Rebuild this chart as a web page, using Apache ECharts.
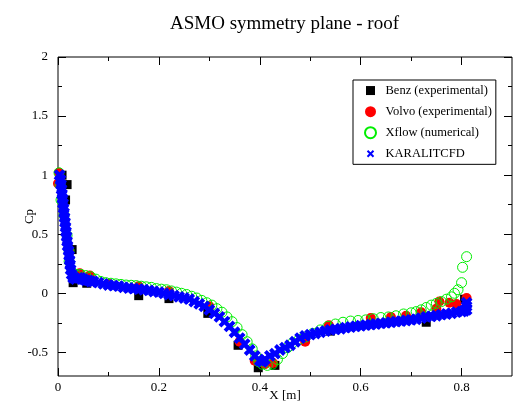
<!DOCTYPE html>
<html>
<head>
    <title>ASMO symmetry plane - roof</title>
    <script src="https://cdn.jsdelivr.net/npm/echarts@6.0.0/dist/echarts.min.js"></script>
</head>
<body style="margin:0">
<div id="chart" style="width: 520px; height: 403px;"></div>
<script>
    // values (X [m], Cp)
    var seriesNames = ['Benz (experimental)', 'Volvo (experimental)', 'Xflow (numerical)', 'KARALITCFD'];

    var benz = [
        [0.008, 1.0], [0.018, 0.92], [0.015, 0.79], [0.028, 0.37], [0.03, 0.09], [0.057, 0.085],
        [0.16, -0.02], [0.22, -0.045], [0.297, -0.17], [0.357, -0.44], [0.397, -0.63], [0.43, -0.61],
        [0.54, -0.32], [0.73, -0.245], [0.806, -0.05]
    ];

    var volvo = [
        [0.002, 1.02], [0.0, 0.93], [0.012, 0.66], [0.022, 0.35], [0.043, 0.17], [0.063, 0.15],
        [0.10, 0.08], [0.16, 0.06], [0.22, 0.02], [0.30, -0.11], [0.36, -0.41], [0.39, -0.57],
        [0.41, -0.6], [0.426, -0.59], [0.49, -0.41], [0.537, -0.27], [0.62, -0.21], [0.66, -0.2],
        [0.69, -0.19], [0.72, -0.16], [0.75, -0.13], [0.756, -0.07], [0.776, -0.08], [0.79, -0.09],
        [0.81, -0.04]
    ];

    var xflow = [
        [0.002, 1.02], [0.004, 0.92], [0.006, 0.79], [0.012, 0.66], [0.018, 0.49], [0.022, 0.36],
        [0.022, 0.27], [0.028, 0.18], [0.035, 0.16], [0.045, 0.16], [0.055, 0.15], [0.065, 0.14],
        [0.075, 0.12], [0.085, 0.1], [0.095, 0.09], [0.105, 0.085], [0.115, 0.08], [0.125, 0.075],
        [0.135, 0.07], [0.145, 0.068], [0.155, 0.065], [0.165, 0.06], [0.175, 0.055], [0.185, 0.05],
        [0.195, 0.04], [0.205, 0.035], [0.215, 0.03], [0.225, 0.02], [0.235, 0.01], [0.245, 0.0],
        [0.255, -0.01], [0.265, -0.025], [0.275, -0.04], [0.285, -0.06], [0.295, -0.08], [0.305, -0.1],
        [0.315, -0.13], [0.325, -0.16], [0.335, -0.2], [0.345, -0.24], [0.355, -0.29], [0.365, -0.35],
        [0.375, -0.41], [0.385, -0.47], [0.392, -0.53], [0.398, -0.58], [0.405, -0.6], [0.415, -0.61],
        [0.425, -0.6], [0.435, -0.56], [0.445, -0.51], [0.455, -0.46], [0.465, -0.42], [0.478, -0.39],
        [0.49, -0.37], [0.505, -0.34], [0.52, -0.31], [0.535, -0.28], [0.55, -0.26], [0.565, -0.245],
        [0.58, -0.235], [0.595, -0.23], [0.61, -0.225], [0.625, -0.215], [0.64, -0.205], [0.655, -0.2],
        [0.67, -0.19], [0.685, -0.175], [0.70, -0.165], [0.71, -0.155], [0.72, -0.14], [0.73, -0.12],
        [0.74, -0.1], [0.75, -0.085], [0.76, -0.07], [0.77, -0.05], [0.78, -0.03], [0.786, 0.0],
        [0.793, 0.03], [0.80, 0.09], [0.802, 0.22], [0.81, 0.31]
    ];

    var karalit = [
        [0.003, 1.0], [0.005, 0.96], [0.006, 0.92], [0.007, 0.88], [0.008, 0.84], [0.009, 0.80],
        [0.010, 0.76], [0.011, 0.72], [0.012, 0.68], [0.013, 0.64], [0.014, 0.60], [0.015, 0.56],
        [0.016, 0.52], [0.017, 0.48], [0.018, 0.44], [0.019, 0.40], [0.021, 0.36], [0.022, 0.32],
        [0.023, 0.28], [0.024, 0.24], [0.025, 0.20], [0.027, 0.16], [0.03, 0.13], [0.035, 0.12],
        [0.04, 0.13], [0.045, 0.13], [0.05, 0.12], [0.055, 0.11], [0.06, 0.11], [0.065, 0.10],
        [0.07, 0.10], [0.08, 0.09], [0.09, 0.08], [0.10, 0.07], [0.11, 0.065], [0.12, 0.06],
        [0.13, 0.05], [0.14, 0.045], [0.15, 0.04], [0.16, 0.035], [0.17, 0.03], [0.18, 0.025],
        [0.19, 0.015], [0.20, 0.01], [0.21, 0.0], [0.22, -0.01], [0.23, -0.02], [0.24, -0.03],
        [0.25, -0.04], [0.26, -0.05], [0.27, -0.07], [0.28, -0.09], [0.29, -0.11], [0.30, -0.14],
        [0.31, -0.17], [0.32, -0.20], [0.33, -0.24], [0.34, -0.28], [0.35, -0.33], [0.36, -0.38],
        [0.37, -0.43], [0.38, -0.48], [0.39, -0.53], [0.40, -0.57], [0.405, -0.58], [0.41, -0.56],
        [0.42, -0.53], [0.43, -0.51], [0.44, -0.48], [0.45, -0.46], [0.46, -0.44], [0.47, -0.41],
        [0.48, -0.38], [0.49, -0.36], [0.50, -0.35], [0.51, -0.34], [0.52, -0.33], [0.53, -0.32],
        [0.54, -0.31], [0.55, -0.305], [0.56, -0.30], [0.57, -0.29], [0.58, -0.285], [0.59, -0.28],
        [0.60, -0.275], [0.61, -0.27], [0.62, -0.265], [0.63, -0.26], [0.64, -0.255], [0.65, -0.25],
        [0.66, -0.245], [0.67, -0.24], [0.68, -0.235], [0.69, -0.23], [0.70, -0.225], [0.71, -0.22],
        [0.72, -0.21], [0.73, -0.20], [0.74, -0.195], [0.75, -0.19], [0.76, -0.18], [0.77, -0.175],
        [0.78, -0.17], [0.79, -0.16], [0.80, -0.155], [0.805, -0.15], [0.81, -0.14], [0.81, -0.11],
        [0.81, -0.08]
    ];

    var xTicks = [0, 0.2, 0.4, 0.6, 0.8];
    var xMinorTicks = [0.1, 0.3, 0.5, 0.7];
    var yTicks = [-0.5, 0, 0.5, 1, 1.5, 2];
    var yMinorTicks = [-0.25, 0.25, 0.75, 1.25, 1.75];

    var font = 'Liberation Serif';
    var crossPath = 'path://M0,0L10,10M10,0L0,10';

    function xAx(pos, ticks, len, labels) {
        return {
            type: 'value', position: pos, min: 0, max: 0.9,
            axisLine: { show: false, onZero: false }, splitLine: { show: false },
            axisTick: { show: true, inside: true, length: len, customValues: ticks, lineStyle: { color: '#000' } },
            axisLabel: { show: labels, customValues: ticks, margin: 2, color: '#000', fontFamily: font, fontSize: 13 }
        };
    }
    function yAx(pos, ticks, len, labels) {
        return {
            type: 'value', position: pos, min: -0.7, max: 2,
            axisLine: { show: false, onZero: false }, splitLine: { show: false },
            axisTick: { show: true, inside: true, length: len, customValues: ticks, lineStyle: { color: '#000' } },
            axisLabel: { show: labels, customValues: ticks, margin: 10, color: '#000', fontFamily: font, fontSize: 13 }
        };
    }

    var xAxes = [xAx('bottom', xTicks, 8, true), xAx('bottom', xMinorTicks, 4, false),
                 xAx('top', xTicks, 8, false), xAx('top', xMinorTicks, 4, false)];
    xAxes[0].name = 'X [m]';
    xAxes[0].nameLocation = 'middle';
    xAxes[0].nameGap = 10;
    xAxes[0].nameMoveOverlap = false;
    xAxes[0].nameTextStyle = { color: '#000', fontFamily: font, fontSize: 13 };

    var yAxes = [yAx('left', yTicks, 8, true), yAx('left', yMinorTicks, 4, false),
                 yAx('right', yTicks, 8, false), yAx('right', yMinorTicks, 4, false)];
    yAxes[0].name = 'Cp';
    yAxes[0].nameLocation = 'middle';
    yAxes[0].nameGap = 18;
    yAxes[0].nameMoveOverlap = false;
    yAxes[0].nameTextStyle = { color: '#000', fontFamily: font, fontSize: 13 };

    var chart = echarts.init(document.getElementById('chart'));

    var option = {
        backgroundColor: '#fff',
        animation: false,
        title: {
            text: 'ASMO symmetry plane - roof',
            left: 170, top: 10, padding: 0,
            textStyle: { color: '#000', fontFamily: font, fontSize: 19, fontWeight: 'normal' }
        },
        grid: {
            left: 58, right: 8, top: 57, bottom: 27,
            outerBoundsMode: 'none', containLabel: false,
            show: true, borderColor: '#000', borderWidth: 1, backgroundColor: 'transparent'
        },
        legend: {
            orient: 'vertical', left: 353, top: 80,
            padding: [1, 4, 1, 5],
            itemWidth: 20, itemHeight: 11, itemGap: 2,
            borderColor: '#000', borderWidth: 1, borderRadius: 0,
            backgroundColor: '#fff',
            textStyle: { color: '#000', fontFamily: font, fontSize: 12.5, lineHeight: 14 },
            data: [
                { name: seriesNames[0], icon: 'path://M0,0M5.5,1H14.5V10H5.5ZM20,11' },
                { name: seriesNames[1], icon: 'circle' },
                { name: seriesNames[2], icon: 'circle' },
                { name: seriesNames[3], icon: 'path://M0,0M7,2.5L13,8.5M13,2.5L7,8.5M20,11' }
            ]
        },
        xAxis: xAxes,
        yAxis: yAxes,
        series: [
            {
                name: seriesNames[0], type: 'scatter', data: benz,
                symbol: 'rect', symbolSize: 9,
                itemStyle: { color: '#000', opacity: 1 }
            },
            {
                name: seriesNames[1], type: 'scatter', data: volvo,
                symbol: 'circle', symbolSize: 10,
                itemStyle: { color: '#ff0000', opacity: 1 }
            },
            {
                name: seriesNames[2], type: 'scatter', data: xflow,
                symbol: 'circle', symbolSize: 10,
                itemStyle: { color: 'transparent', borderColor: '#00ee00', borderWidth: 1, opacity: 1 }
            },
            {
                name: seriesNames[3], type: 'scatter', data: karalit,
                symbol: crossPath, symbolSize: 9,
                itemStyle: { color: 'none', borderColor: '#0000ff', borderWidth: 4, opacity: 1 }
            }
        ]
    };

    chart.setOption(option);
</script>
</body>
</html>
